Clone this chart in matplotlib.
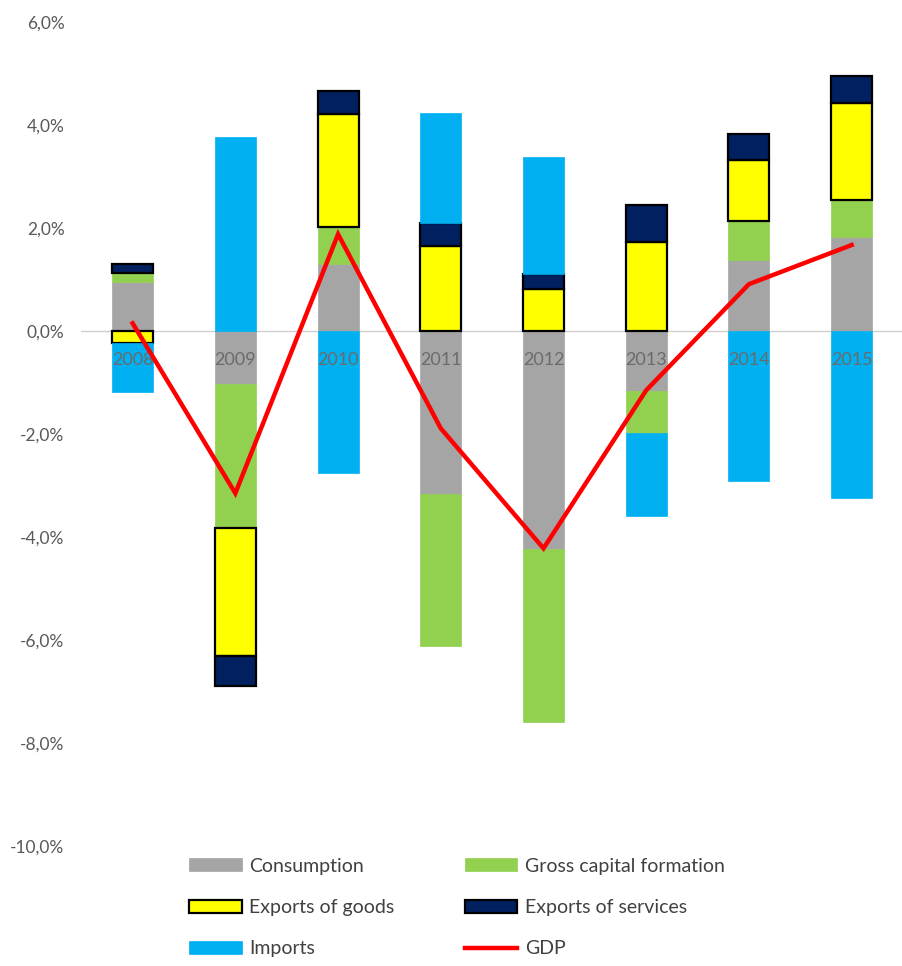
"""
Contributions to GDP growth, 2008-2015 (stacked bars + GDP line)
"""

import matplotlib
matplotlib.use("Agg")
import matplotlib.pyplot as plt
import numpy as np

# ── Data (percentage points) ──────────────────────────────────────────────────
YEARS        = ["2008", "2009", "2010", "2011", "2012", "2013", "2014", "2015"]
CONSUMPTION  = [0.95, -1.03, 1.30, -3.16, -4.23, -1.16, 1.38, 1.83]
GROSS_CAP    = [0.18, -2.80, 0.72, -2.96, -3.36, -0.82, 0.76, 0.71]
EXP_GOODS    = [-0.24, -2.48, 2.20, 1.65, 0.81, 1.73, 1.19, 1.88]
EXP_SERVICES = [0.18, -0.58, 0.45, 0.44, 0.29, 0.72, 0.49, 0.54]
IMPORTS      = [-0.94, 3.76, -2.76, 2.14, 2.28, -1.62, -2.91, -3.25]
GDP          = [0.15, -3.15, 1.88, -1.89, -4.22, -1.15, 0.91, 1.67]

Y_TICKS  = [-10, -8, -6, -4, -2, 0, 2, 4, 6]
Y_LABELS = ["-10,0%", "-8,0%", "-6,0%", "-4,0%", "-2,0%", "0,0%", "2,0%", "4,0%", "6,0%"]

SERIES = [
    ("Consumption",            CONSUMPTION,  "#A5A5A5", False),
    ("Gross capital formation", GROSS_CAP,   "#92D050", False),
    ("Exports of goods",       EXP_GOODS,    "#FFFF00", True),
    ("Exports of services",    EXP_SERVICES, "#002060", True),
    ("Imports",                IMPORTS,      "#00B0F0", False),
]

plt.rcParams["font.family"] = ["Lato", "DejaVu Sans"]

fig = plt.figure(figsize=(9.03, 9.66), dpi=100)
ax = fig.add_axes([0.09, 0.1242, 0.91, 0.8530])

x = np.arange(len(YEARS))
width = 0.4
pos_base = np.zeros(len(YEARS))
neg_base = np.zeros(len(YEARS))
handles = {}

for name, vals, color, outlined in SERIES:
    vals = np.array(vals)
    base = np.where(vals >= 0, pos_base, neg_base)
    bars = ax.bar(x, vals, width, bottom=base, color=color,
                  edgecolor="black" if outlined else color,
                  linewidth=1.6 if outlined else 0.5, zorder=2, label=name)
    handles[name] = bars
    pos_base += np.where(vals >= 0, vals, 0)
    neg_base += np.where(vals < 0, vals, 0)

line, = ax.plot(x, GDP, color="#FF0000", linewidth=3.2, zorder=4,
                solid_joinstyle="miter", label="GDP")

ax.axhline(0, color="#D0D0D0", linewidth=1, zorder=1)

# year labels sit just under the zero line, over the bars
for xi, year in zip(x, YEARS):
    ax.text(xi, -0.56, year, ha="center", va="center", fontsize=13,
            color="#6B6B6B", zorder=3)

ax.set_xlim(-0.5, len(YEARS) - 0.5)
ax.set_ylim(-10, 6)
ax.set_xticks([])
ax.set_yticks(Y_TICKS)
ax.set_yticklabels(Y_LABELS, fontsize=12.5, color="#595959")
ax.tick_params(axis="y", length=0, pad=12)
for s in ax.spines.values():
    s.set_visible(False)

order = ["Consumption", "Exports of goods", "Imports",
         "Gross capital formation", "Exports of services"]
leg_handles = [handles[n] for n in order] + [line]
leg_labels = order + ["GDP"]
fig.legend(leg_handles, leg_labels, ncol=2, loc="lower left",
           bbox_to_anchor=(0.19, -0.009), frameon=False, fontsize=14,
           labelcolor="#404040", handlelength=2.7, handleheight=0.65,
           columnspacing=3.6, labelspacing=1.25, handletextpad=0.4)

fig.savefig("out.png", dpi=100)
